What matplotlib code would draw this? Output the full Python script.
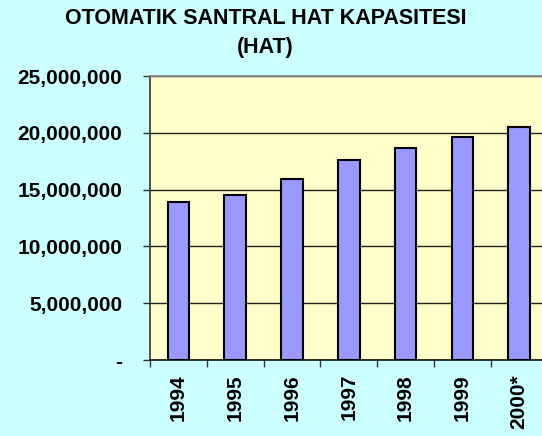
import matplotlib.pyplot as plt
from matplotlib.ticker import FuncFormatter

years = ["1994", "1995", "1996", "1997", "1998", "1999", "2000*"]
lines = [13880000, 14560000, 15890000, 17590000, 18620000, 19650000, 20500000]
yticks = [0, 5000000, 10000000, 15000000, 20000000, 25000000]

plt.rcParams['font.family'] = ['Liberation Sans', 'DejaVu Sans']
plt.rcParams['font.weight'] = 'bold'

fig = plt.figure(figsize=(5.42, 4.36), dpi=100, facecolor='#CCFFFF')
ax = fig.add_axes([150 / 542, 76 / 436, 397.6 / 542, 284 / 436])
ax.set_facecolor('#FFFFCC')

x = range(len(years))
ax.bar(x, lines, width=0.38, color='#9999FF', edgecolor='black', linewidth=1.5, zorder=3)

ax.set_xlim(-0.5, len(years) - 0.5)
ax.set_ylim(0, 25000000)
ax.set_yticks(yticks)
ax.yaxis.set_major_formatter(FuncFormatter(lambda v, p: '-' if v == 0 else f'{int(v):,}'))
ax.grid(axis='y', color='#222222', linewidth=1, zorder=1)

ax.set_xticks(list(x))
ax.set_xticklabels(years, rotation=90, fontsize=15, fontweight='bold')
ax.set_xticks([i - 0.5 for i in range(len(years) + 1)], minor=True)
ax.tick_params(axis='x', which='major', length=0, pad=10)
ax.tick_params(axis='x', which='minor', length=5, width=1, color='#333333')
ax.tick_params(axis='y', length=5, width=1, color='#333333', pad=15, labelsize=15)
for lab in ax.get_yticklabels():
    lab.set_fontweight('bold')

ax.spines['top'].set_color('#888888')
ax.spines['left'].set_color('#333333')
ax.spines['bottom'].set_color('#111111')
for s in ax.spines.values():
    s.set_linewidth(1.2)

fig.text(0.49, 1 - 19 / 436, 'OTOMATIK SANTRAL HAT KAPASITESI', ha='center', va='center',
         fontsize=15.5, fontweight='bold')
fig.text(0.49, 1 - 47 / 436, '(HAT)', ha='center', va='center', fontsize=15.5, fontweight='bold')

fig.savefig('out.png', dpi=100, facecolor=fig.get_facecolor())
